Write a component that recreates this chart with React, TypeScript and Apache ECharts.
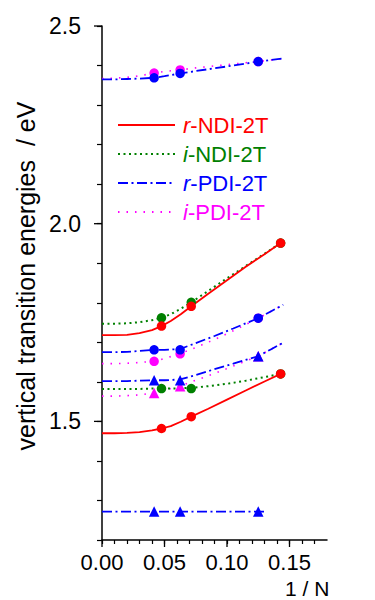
import React, { useEffect, useRef } from "react";
import * as echarts from "echarts";

const FONT = '"Liberation Sans", Arial, Helvetica, sans-serif';
const RED = "#ff0000";
const GREEN = "#008000";
const BLUE = "#0000ff";
const MAGENTA = "#ff00ff";

// x = 1/N values of the computed oligomers
const xNDI = [0.0476, 0.0714, 0.1429];
const xPDI = [0.0417, 0.0625, 0.125];

// computed points (eV)
const rNDI_S1 = [1.741, 1.791, 1.951];
const rNDI_T1 = [1.482, 1.512, 1.62];
const iNDI_S1 = [1.762, 1.801, 1.951];
const iNDI_T1 = [1.583, 1.583, 1.62];
const rPDI_S2 = [2.369, 2.38, 2.41];
const rPDI_S1 = [1.681, 1.681, 1.761];
const rPDI_T2 = [1.604, 1.604, 1.665];
const rPDI_T1 = [1.272, 1.272, 1.272];
const iPDI_S2 = [2.381, 2.389, 2.41];
const iPDI_S1 = [1.652, 1.671, 1.761];
const iPDI_T1 = [1.572, 1.589, 1.665];

// fitted curves
const curveX_NDI = [0, 0.01, 0.02, 0.03, 0.04, 0.0476, 0.055, 0.063, 0.0714, 0.085, 0.1, 0.115, 0.13, 0.1429];
const rNDI_S1_fit = [1.718, 1.718, 1.719, 1.723, 1.731, 1.741, 1.754, 1.771, 1.791, 1.823, 1.857, 1.891, 1.923, 1.951];
const rNDI_T1_fit = [1.47, 1.47, 1.471, 1.473, 1.477, 1.482, 1.488, 1.499, 1.512, 1.532, 1.555, 1.578, 1.601, 1.62];
const iNDI_S1_fit = [1.747, 1.747, 1.748, 1.751, 1.756, 1.762, 1.771, 1.785, 1.801, 1.83, 1.862, 1.893, 1.924, 1.951];
const iNDI_T1_fit = [1.582, 1.582, 1.582, 1.582, 1.583, 1.583, 1.583, 1.584, 1.585, 1.589, 1.595, 1.603, 1.612, 1.62];

const curveX_PDI = [0, 0.01, 0.02, 0.03, 0.0417, 0.05, 0.0625, 0.075, 0.09, 0.105, 0.125, 0.135, 0.145];
const rPDI_S2_fit = [2.365, 2.365, 2.366, 2.367, 2.369, 2.373, 2.38, 2.386, 2.393, 2.4, 2.41, 2.414, 2.418];
const iPDI_S2_fit = [2.367, 2.368, 2.37, 2.374, 2.381, 2.385, 2.389, 2.394, 2.399, 2.404, 2.41, 2.414, 2.417];
const rPDI_S1_fit = [1.675, 1.675, 1.676, 1.678, 1.681, 1.681, 1.683, 1.698, 1.716, 1.735, 1.761, 1.778, 1.795];
const iPDI_S1_fit = [1.646, 1.646, 1.647, 1.649, 1.652, 1.659, 1.671, 1.687, 1.707, 1.729, 1.761, 1.778, 1.795];
const rPDI_T2_fit = [1.602, 1.602, 1.602, 1.603, 1.604, 1.604, 1.606, 1.617, 1.632, 1.646, 1.665, 1.682, 1.699];
const iPDI_T1_fit = [1.564, 1.564, 1.565, 1.567, 1.572, 1.579, 1.589, 1.604, 1.621, 1.64, 1.665, 1.682, 1.699];
const curveX_PDI_T1 = [0, 0.13];
const rPDI_T1_fit = [1.272, 1.272];

// axes
const X_MIN = 0;
const X_MAX = 0.18;
const Y_MIN = 1.2;
const Y_MAX = 2.5;
const majorX = [0, 0.05, 0.1, 0.15];
const majorY = [1.5, 2.0, 2.5];

// legend
const legendNames = ["r-NDI-2T", "i-NDI-2T", "r-PDI-2T", "i-PDI-2T"];
const legendColors = [RED, GREEN, BLUE, MAGENTA];

// state labels: [x, y, main, subscript, tail]
const stateLabels: [number, number, string, string, string][] = [
  [0.1532, 2.412, "S", "2", "[PDI]"],
  [0.1497, 1.96, "S", "1", "[CT]"],
  [0.1497, 1.8, "S", "1", "[CT]"],
  [0.1497, 1.7, "T", "2", "[CT]"],
  [0.1497, 1.616, "T", "1", "[CT]"],
  [0.1497, 1.273, "T", "1", "[PDI]"],
];

const zip = (xs: number[], ys: number[]) => xs.map((x, i) => [x, ys[i]]);

const dashDot = [10, 3.5, 2, 3.5];
const dotted = [2, 3.5];
const sparse = [1.5, 7];

function fit(name: string, xs: number[], ys: number[], color: string, type: any, width: number) {
  return {
    type: "line",
    name,
    data: zip(xs, ys),
    smooth: false,
    symbol: "none",
    lineStyle: { color, width, type },
    itemStyle: { color },
    z: 2,
  };
}

function pts(name: string, xs: number[], ys: number[], color: string, symbol: string, size: number) {
  return {
    type: "scatter",
    name,
    data: zip(xs, ys),
    symbol,
    symbolSize: size,
    itemStyle: { color, opacity: 1 },
    z: 3,
  };
}

const isMajor = (v: number, step: number) => Math.abs(v / step - Math.round(v / step)) < 1e-6;

export default function App() {
  const ref = useRef<HTMLDivElement>(null);
  useEffect(() => {
    if (!ref.current) return;
    const chart = echarts.init(ref.current, undefined, { renderer: "svg" });
    const option: any = {
      animation: false,
      backgroundColor: "#ffffff",
      textStyle: { fontFamily: FONT },
      grid: { left: 102, right: 48, top: 26, bottom: 60, containLabel: false },
      legend: {
        orient: "vertical",
        left: 112,
        top: 109,
        itemWidth: 57,
        itemHeight: 14,
        itemGap: 7,
        selectedMode: false,
        itemStyle: { opacity: 0 },
        formatter: (name: string) => `{it|${name.slice(0, 1)}}{n|${name.slice(1)}}`,
        data: legendNames.map((n, i) => ({
          name: n,
          textStyle: {
            color: legendColors[i],
            rich: {
              it: { fontStyle: "italic", fontSize: 22, color: legendColors[i], fontFamily: FONT },
              n: { fontSize: 22, color: legendColors[i], fontFamily: FONT },
            },
          },
        })),
        textStyle: { fontSize: 22, fontFamily: FONT, padding: [0, 0, 0, 3] },
      },
      xAxis: {
        type: "value",
        min: X_MIN,
        max: X_MAX,
        interval: 0.01,
        axisLine: { lineStyle: { color: "#000", width: 1.5 } },
        axisTick: { length: 4, lineStyle: { color: "#000", width: 1.2 } },
        splitLine: { show: false },
        axisLabel: {
          color: "#000",
          fontSize: 22,
          fontFamily: FONT,
          margin: 11,
          showMaxLabel: false,
          formatter: (v: number) => (isMajor(v, 0.05) ? v.toFixed(2) : ""),
        },
      },
      yAxis: {
        type: "value",
        min: Y_MIN,
        max: Y_MAX,
        interval: 0.1,
        name: "vertical transition energies  / eV",
        nameLocation: "middle",
        nameGap: 64,
        nameTextStyle: { color: "#000", fontSize: 25, fontFamily: FONT, padding: [0, 0, 0, 14] },
        axisLine: { lineStyle: { color: "#000", width: 1.5 } },
        axisTick: { length: 5, lineStyle: { color: "#000", width: 1.2 } },
        splitLine: { show: false },
        axisLabel: {
          color: "#000",
          fontSize: 23,
          fontFamily: FONT,
          margin: 21,
          formatter: (v: number) => (isMajor(v, 0.5) ? v.toFixed(1) : ""),
        },
      },
      graphic: [
        {
          type: "text",
          left: 285,
          top: 578,
          style: { text: "1 / N", fontSize: 21, fontFamily: FONT, fill: "#000" },
        },
      ],
      series: [
        // i-PDI-2T (magenta, sparse dots)
        fit("i-PDI-2T", curveX_PDI, iPDI_S2_fit, MAGENTA, sparse, 1.6),
        fit("i-PDI-2T", curveX_PDI, iPDI_S1_fit, MAGENTA, sparse, 1.6),
        fit("i-PDI-2T", curveX_PDI, iPDI_T1_fit, MAGENTA, sparse, 1.6),
        pts("i-PDI-2T pts", xPDI, iPDI_S2, MAGENTA, "circle", 9.5),
        pts("i-PDI-2T pts", xPDI, iPDI_S1, MAGENTA, "circle", 9.5),
        pts("i-PDI-2T pts", xPDI, iPDI_T1, MAGENTA, "triangle", 10.5),
        // i-NDI-2T (green, dotted)
        fit("i-NDI-2T", curveX_NDI, iNDI_S1_fit, GREEN, dotted, 2),
        fit("i-NDI-2T", curveX_NDI, iNDI_T1_fit, GREEN, dotted, 2),
        pts("i-NDI-2T pts", xNDI, iNDI_S1, GREEN, "circle", 9.5),
        pts("i-NDI-2T pts", xNDI, iNDI_T1, GREEN, "circle", 9.5),
        // r-PDI-2T (blue, dash-dot)
        fit("r-PDI-2T", curveX_PDI, rPDI_S2_fit, BLUE, dashDot, 1.8),
        fit("r-PDI-2T", curveX_PDI, rPDI_S1_fit, BLUE, dashDot, 1.8),
        fit("r-PDI-2T", curveX_PDI, rPDI_T2_fit, BLUE, dashDot, 1.8),
        fit("r-PDI-2T", curveX_PDI_T1, rPDI_T1_fit, BLUE, dashDot, 1.8),
        pts("r-PDI-2T pts", xPDI, rPDI_S2, BLUE, "circle", 9.5),
        pts("r-PDI-2T pts", xPDI, rPDI_S1, BLUE, "circle", 9.5),
        pts("r-PDI-2T pts", xPDI, rPDI_T2, BLUE, "triangle", 10.5),
        pts("r-PDI-2T pts", xPDI, rPDI_T1, BLUE, "triangle", 10.5),
        // r-NDI-2T (red, solid)
        fit("r-NDI-2T", curveX_NDI, rNDI_S1_fit, RED, "solid", 1.8),
        fit("r-NDI-2T", curveX_NDI, rNDI_T1_fit, RED, "solid", 1.8),
        pts("r-NDI-2T pts", xNDI, rNDI_S1, RED, "circle", 9.5),
        pts("r-NDI-2T pts", xNDI, rNDI_T1, RED, "circle", 9.5),
        // state labels
        {
          type: "scatter",
          name: "labels",
          data: stateLabels.map((l) => [l[0], l[1]]),
          symbolSize: 1,
          itemStyle: { opacity: 0 },
          silent: true,
          z: 5,
          label: {
            show: true,
            position: "right",
            distance: 0,
            color: "#000",
            fontFamily: FONT,
            formatter: (p: any) => {
              const l = stateLabels[p.dataIndex];
              return `{b|${l[2]}}{s|${l[3]}}{n| ${l[4]}}`;
            },
            rich: {
              b: { fontWeight: "bold", fontSize: 22, fontFamily: FONT, color: "#000" },
              s: { fontWeight: "bold", fontSize: 13, fontFamily: FONT, color: "#000", padding: [16, 0, 0, 1] },
              n: { fontSize: 22, fontFamily: FONT, color: "#000" },
            },
          },
        },
        // major ticks (longer than minor ticks)
        {
          type: "custom",
          name: "majorTicks",
          coordinateSystem: "cartesian2d",
          clip: false,
          silent: true,
          z: 10,
          data: [...majorX.map((v) => [v, Y_MIN, 0]), ...majorY.map((v) => [X_MIN, v, 1])],
          renderItem: (params: any, api: any) => {
            const p = api.coord([api.value(0), api.value(1)]);
            const vertical = api.value(2) === 0;
            return {
              type: "line",
              shape: vertical
                ? { x1: p[0], y1: p[1], x2: p[0], y2: p[1] + 7 }
                : { x1: p[0] - 8, y1: p[1], x2: p[0], y2: p[1] },
              style: { stroke: "#000", lineWidth: 1.3 },
            };
          },
        },
      ],
    };
    chart.setOption(option);
    return () => chart.dispose();
  }, []);
  return (
    <div
      ref={ref}
      style={{ position: "absolute", left: 0, top: 0, width: 375, height: 600, background: "#fff" }}
    />
  );
}
